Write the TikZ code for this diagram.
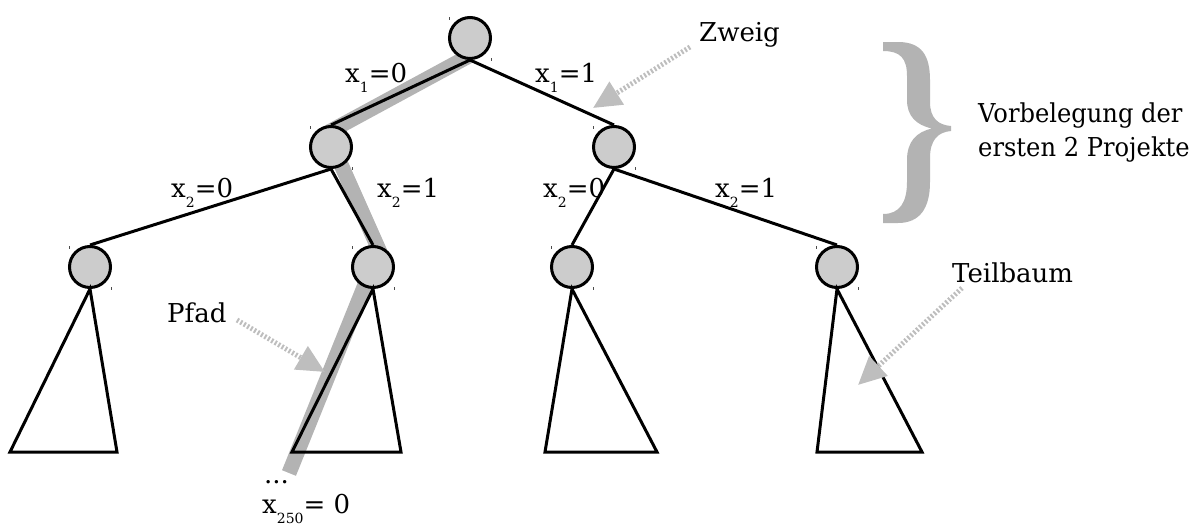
\documentclass[tikz,border=0pt]{standalone}
\usepackage{fontspec}
\setmainfont{DejaVu Serif}
\newfontfamily\narrowfont[FakeStretch=0.93]{DejaVu Serif}
\usetikzlibrary{arrows.meta,backgrounds,calc}
\definecolor{nodegray}{RGB}{204,204,204}
\definecolor{pathgray}{RGB}{179,179,179}
\definecolor{arrowgray}{RGB}{190,190,190}
\newcommand\lsub[1]{\raisebox{-0.42em}{\fontsize{14}{14}\selectfont #1}}
\begin{document}
\begin{tikzpicture}[x=1pt,y=-1pt,
  tnode/.style={circle,draw=black,fill=nodegray,line width=3pt,minimum size=41pt,inner sep=0pt},
  edge/.style={line width=3pt,line join=miter},
  lbl/.style={anchor=base west,inner sep=0pt,font=\fontsize{26}{30}\selectfont},
  pointer/.style={draw=arrowgray,line width=5pt,dash pattern=on 2pt off 2pt,
     -{Triangle[length=28pt,width=26pt,fill=arrowgray,color=arrowgray]}},
  tick/.style={line width=0.7pt,draw=black!70},
  band/.style={draw=pathgray,line width=15pt,line join=miter,line cap=butt}
  ]
\useasboundingbox (0,0) rectangle (1202,525);
% nodes
\node[tnode] (r) at (470,38) {};
\node[tnode] (a) at (331,147) {};
\node[tnode] (b) at (614,147) {};
\node[tnode] (c) at (90,267) {};
\node[tnode] (d) at (373,267) {};
\node[tnode] (e) at (572,267) {};
\node[tnode] (f) at (837,267) {};
% highlighted path
\begin{pgfonlayer}{background}
\draw[band] (469,56) -- (327,133) -- (379,250) -- (289,473);
\end{pgfonlayer}
% edges
\draw[edge] (r.south) -- (a.north);
\draw[edge] (r.south) -- (b.north);
\draw[edge] (a.south) -- (c.north);
\draw[edge] (a.south) -- (d.north);
\draw[edge] (b.south) -- (e.north);
\draw[edge] (b.south) -- (f.north);
% subtrees
\coordinate (c1) at (10,452);  \coordinate (c2) at (117,452);
\coordinate (d1) at (292,452); \coordinate (d2) at (401,452);
\coordinate (e1) at (545,452); \coordinate (e2) at (657,452);
\coordinate (f1) at (817,452); \coordinate (f2) at (922,452);
\draw[edge] (c.south) -- (c1) -- (c2) -- cycle;
\draw[edge] (d.south) -- (d1) -- (d2) -- cycle;
\draw[edge] (e.south) -- (e1) -- (e2) -- cycle;
\draw[edge] (f.south) -- (f1) -- (f2) -- cycle;
% ticks
\foreach \n in {r,a,b,c,d,e,f}{
  \draw[tick] ($(\n.center)+(-21,-21)$) -- ($(\n.center)+(-21,-18)$);
  \draw[tick] ($(\n.center)+(21,20)$) -- ($(\n.center)+(21,23)$);
}
% edge labels
\node[lbl] (l1) at (345,82) {x\lsub{1}=0};
\node[lbl] (l2) at (535,82) {x\lsub{1}=1};
\node[lbl] (l3) at (171,197) {x\lsub{2}=0};
\node[lbl] (l4) at (377,197) {x\lsub{2}=1};
\node[lbl] (l5) at (543,197) {x\lsub{2}=0};
\node[lbl] (l6) at (715,197) {x\lsub{2}=1};
% annotations
\node[lbl] (zw) at (699,41) {Zweig};
\node[lbl] (tb) at (952,282) {Teilbaum};
\node[lbl] (pf) at (167,322) {Pfad};
\node[lbl] (dots) at (264,483) {...};
\node[lbl] (xl) at (262,513) {x\lsub{250}= 0};
\node[lbl,font=\fontsize{26}{30}\narrowfont] (vb1) at (978,122) {Vorbelegung der};
\node[lbl,font=\fontsize{26}{30}\narrowfont] (vb2) at (978,156) {ersten 2 Projekte};
% pointers
\coordinate (zt) at (690,47);  \coordinate (zh) at (593,108);
\coordinate (pt) at (237,320); \coordinate (ph) at (325,372);
\coordinate (tt) at (962,288); \coordinate (th) at (858,385);
\draw[pointer] (zt) -- (zh);
\draw[pointer] (pt) -- (ph);
\draw[pointer] (tt) -- (th);
% brace
\fill[pathgray] (883,42) -- (898,42)
  .. controls (922,42) and (930,56) .. (930,80) -- (930,102)
  .. controls (930,118) and (938,125) .. (951,126) -- (951,131)
  .. controls (938,132) and (930,140) .. (930,158) -- (930,182)
  .. controls (930,208) and (920,223) .. (898,223) -- (883,223) -- (883,214)
  .. controls (900,214) and (907,202) .. (907,182) -- (907,160)
  .. controls (907,142) and (916,132) .. (932,128.5)
  .. controls (916,125) and (907,116) .. (907,100) -- (907,76)
  .. controls (907,58) and (900,51) .. (883,51) -- cycle;
\end{tikzpicture}
\end{document}
